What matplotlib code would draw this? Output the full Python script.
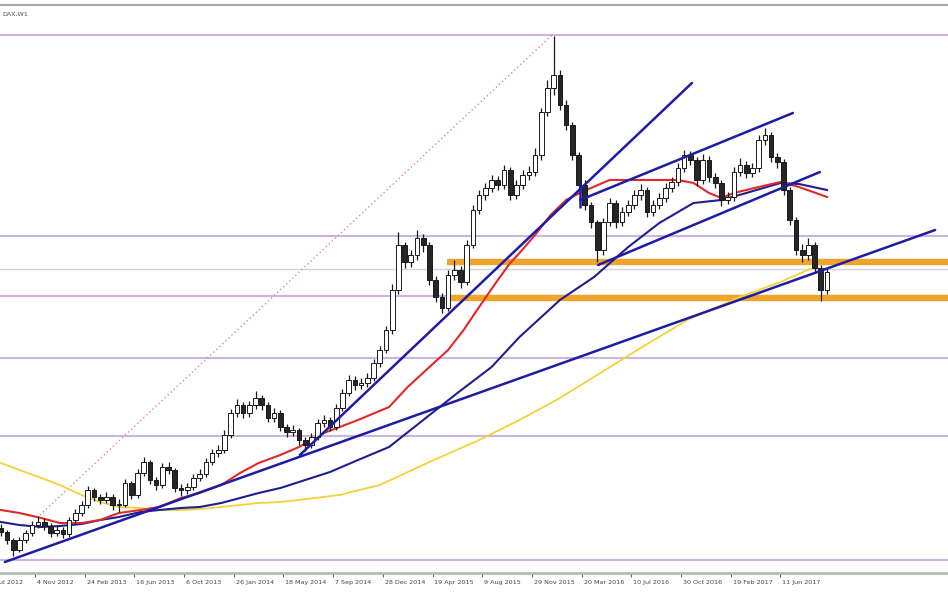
import numpy as np
import matplotlib
matplotlib.use("Agg")
import matplotlib.pyplot as plt
from matplotlib.transforms import blended_transform_factory

# ---------------- data ----------------
# bi-weekly bars, x = weeks since 4 Nov 2012
bar_weeks = np.arange(-11, 256, 2)
close = [68, 60, 50, 60, 67, 75, 78, 74, 67, 70, 66, 80, 87, 95, 110, 103, 100, 103, 95, 95,
         117, 105, 127, 138, 120, 115, 133, 130, 112, 110, 113, 122, 126, 138, 147, 150, 165, 187, 195, 187,
         195, 202, 195, 182, 187, 173, 168, 170, 160, 155, 163, 177, 180, 173, 192, 207, 220, 215, 217, 222,
         237, 250, 270, 310, 355, 338, 345, 362, 355, 320, 303, 292, 325, 330, 318, 355, 390, 405, 412, 420,
         415, 430, 405, 415, 425, 428, 445, 488, 512, 525, 495, 475, 445, 415, 395, 378, 350, 378, 397, 378,
         388, 395, 405, 410, 388, 395, 402, 412, 418, 432, 445, 440, 420, 440, 423, 417, 400, 403, 428, 435,
         427, 432, 460, 465, 443, 438, 410, 380, 350, 345, 355, 332, 310, 328]
high = [76, 70, 62, 63, 70, 79, 84, 82, 77, 74, 73, 83, 91, 99, 114, 112, 106, 108, 106, 101,
        121, 119, 131, 143, 140, 123, 137, 138, 132, 116, 117, 126, 131, 142, 151, 155, 170, 191, 201, 198,
        199, 209, 205, 198, 192, 190, 176, 175, 172, 163, 167, 181, 185, 183, 196, 211, 225, 224, 222, 227,
        241, 254, 274, 316, 368, 358, 350, 370, 366, 358, 324, 307, 330, 340, 334, 360, 395, 410, 417, 425,
        424, 435, 433, 420, 430, 434, 452, 492, 520, 564, 530, 500, 478, 448, 420, 398, 380, 382, 402, 400,
        393, 400, 410, 416, 413, 400, 407, 417, 423, 437, 450, 449, 443, 446, 444, 427, 420, 408, 433, 442,
        439, 437, 465, 472, 468, 447, 441, 413, 383, 356, 362, 358, 335, 333]
low = [64, 56, 44, 48, 57, 64, 72, 70, 63, 64, 62, 63, 77, 84, 92, 99, 96, 97, 90, 88,
       93, 101, 102, 124, 116, 110, 112, 126, 108, 104, 106, 110, 119, 123, 135, 143, 147, 162, 183, 182,
       183, 191, 190, 178, 178, 169, 163, 164, 155, 149, 152, 160, 173, 169, 170, 189, 204, 210, 211, 213,
       219, 233, 247, 266, 306, 332, 333, 340, 348, 315, 298, 287, 289, 320, 312, 315, 352, 386, 400, 408,
       410, 411, 400, 401, 411, 420, 424, 440, 484, 505, 490, 470, 440, 410, 390, 372, 338, 345, 374, 372,
       374, 384, 391, 400, 383, 384, 391, 398, 408, 414, 428, 435, 414, 416, 418, 412, 394, 396, 399, 424,
       422, 423, 428, 455, 438, 432, 405, 375, 345, 338, 340, 327, 299, 306]
first_open = 72

# moving averages (weeks, price)
red_ma_w = [-11, -5, 2, 8, 15, 21, 27, 34, 40, 47, 53, 60, 66, 72, 79, 85, 93, 104, 114, 120, 127,
            133, 138, 143, 149, 153, 156, 161, 166, 171, 176, 185, 196, 207, 212, 217, 221, 225, 233, 240, 246, 255]
red_ma_v = [90, 87, 82, 77, 77, 80, 87, 90, 93, 102, 107, 115, 127, 137, 145, 153, 167, 180, 193, 213, 233,
            250, 270, 293, 320, 337, 347, 365, 385, 400, 408, 420, 420, 420, 417, 407, 402, 407, 413, 418, 413, 403]
navy_ma_w = [-11, -5, 2, 8, 15, 21, 27, 34, 40, 47, 53, 60, 66, 72, 79, 85, 95, 104, 114, 125, 136,
             147, 156, 169, 180, 191, 201, 212, 221, 229, 240, 246, 255]
navy_ma_v = [78, 75, 73, 74, 76, 80, 83, 88, 90, 92, 93, 97, 102, 107, 112, 118, 128, 140, 153, 180, 207,
             233, 263, 300, 323, 353, 377, 397, 400, 407, 417, 416, 410]
yellow_ma_w = [-11, -5, 2, 8, 15, 21, 27, 34, 40, 47, 53, 60, 66, 72, 79, 85, 98, 111, 127, 143, 156,
               169, 182, 195, 210, 227, 240, 251]
yellow_ma_v = [137, 130, 122, 115, 105, 98, 93, 92, 90, 90, 91, 93, 95, 97, 98, 100, 105, 115, 138, 160, 180,
               202, 227, 252, 280, 303, 318, 333]

# drawn trend lines: (week0, price0, week1, price1)
trend_lines = [(-9.7, 38, 289.8, 370),
               (85.3, 145, 211.5, 517),
               (175.5, 400, 244.0, 487),
               (181.3, 335, 252.7, 428),
               (175.5, 393, 175.5, 416)]
dotted_line = (1.6, 85, 166.5, 565)

# horizontal levels
violet_levels = [565, 364, 304, 242, 164, 40]
gray_levels = [331]
orange_levels = [338, 302]
orange_start_week = 132.6

tick_weeks = list(range(-16, 241, 16))
tick_labels = ["15 Jul 2012", "4 Nov 2012", "24 Feb 2013", "16 Jun 2013", "6 Oct 2013",
               "26 Jan 2014", "18 May 2014", "7 Sep 2014", "28 Dec 2014", "19 Apr 2015",
               "9 Aug 2015", "29 Nov 2015", "20 Mar 2016", "10 Jul 2016", "30 Oct 2016",
               "19 Feb 2017", "11 Jun 2017"]
title_text = "DAX,W1"

# ---------------- figure ----------------
W, H = 948, 593
fig = plt.figure(figsize=(W / 100, H / 100), dpi=100)
fig.patch.set_facecolor("white")
ax = fig.add_axes([0, 20 / H, 1, 568 / H])
ax.set_xlim(-11.27, 293.95)
ax.set_ylim(27, 595)
ax.set_facecolor("white")
for s in ["left", "right"]:
    ax.spines[s].set_visible(False)
ax.spines["top"].set_color("#a8a8a8")
ax.spines["top"].set_linewidth(1.5)
ax.spines["bottom"].set_color("#a9bba9")
ax.spines["bottom"].set_linewidth(1.8)
ax.set_yticks([])

# horizontal levels
for lv in violet_levels:
    ax.axhline(lv, color="#cbb4df", lw=1.5, zorder=1)
for lv in gray_levels:
    ax.axhline(lv, color="#d4d4d4", lw=1.0, zorder=1)
for lv in orange_levels:
    ax.plot([orange_start_week, 300], [lv, lv], color="#efa52c", lw=4.6,
            solid_capstyle="butt", zorder=2)

# dotted line to the peak
ax.plot(dotted_line[0::2], dotted_line[1::2], color="#e08a8a", lw=1.0,
        linestyle=(0, (1, 2)), zorder=2)

# moving averages
ax.plot(yellow_ma_w, yellow_ma_v, color="#f2d23a", lw=1.3, zorder=3)
ax.plot(navy_ma_w, navy_ma_v, color="#1f1f8f", lw=1.5, zorder=3)
ax.plot(red_ma_w, red_ma_v, color="#e22828", lw=1.5, zorder=3)

# candles
opens = [first_open] + close[:-1]
for x, o, h, l, c in zip(bar_weeks, opens, high, low, close):
    ax.vlines(x, l, h, color="#1a1a1a", lw=0.9, zorder=4)
    bull = c >= o
    ax.bar(x, max(abs(c - o), 1.0), bottom=min(o, c), width=1.5,
           color="white" if bull else "#262626", edgecolor="#1a1a1a",
           linewidth=0.7, zorder=5)

# trend lines
for (w0, p0, w1, p1) in trend_lines:
    ax.plot([w0, w1], [p0, p1], color="#1c1ca6", lw=1.8, zorder=6,
            solid_capstyle="round")

# x ticks and labels
ax.set_xticks([t for t in tick_weeks if t > -11.27])
ax.set_xticklabels([])
ax.tick_params(axis="x", length=3, width=0.8, color="#666666", direction="out")
trans = blended_transform_factory(ax.transData, ax.transAxes)
for t, lab in zip(tick_weeks, tick_labels):
    ax.text(t + 0.6, -0.0125, lab, transform=trans, ha="left", va="top",
            fontsize=4.6, color="#444444", clip_on=False)

fig.text(2 / W, 1 - 14 / H, title_text, fontsize=4.6, color="#555555",
         ha="left", va="center")

fig.savefig("out.png", dpi=100, facecolor="white")
